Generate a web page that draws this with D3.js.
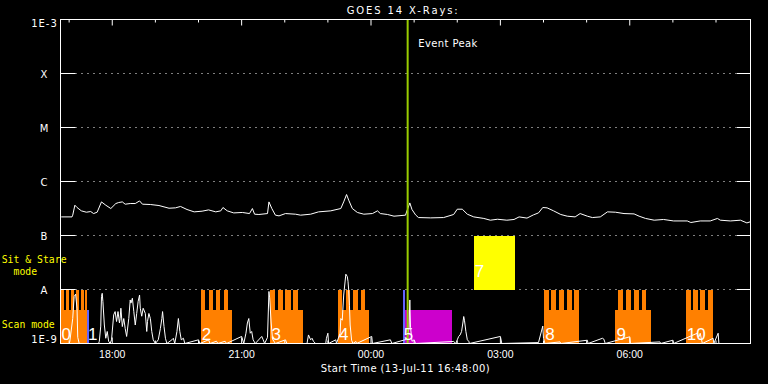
<!DOCTYPE html>
<html><head><meta charset="utf-8">
<script src="https://cdn.jsdelivr.net/npm/d3@7"></script>
<style>
html,body{margin:0;padding:0;background:#000;}
svg{display:block;background:#000;}
</style></head><body>
<svg id="c" width="768" height="384"></svg>
<script>
// ---------------- DATA ----------------
const startTime = "2011-07-13T16:48:00Z";
const endTime   = "2011-07-14T08:48:00Z";
const titleText = "GOES 14 X-Rays:";
const xTitle = "Start Time (13-Jul-11 16:48:00)";
const eventPeakTime = "00:51";
const eventPeakLabel = "Event Peak";

const yTickValues = [1e-9, 1e-8, 1e-7, 1e-6, 1e-5, 1e-4, 1e-3];
const yTickLabels = ["1E-9", "A", "B", "C", "M", "X", "1E-3"];
const gridLevels  = [1e-8, 1e-7, 1e-6, 1e-5, 1e-4];
const xMajorHours = [18, 21, 0, 3, 6];

// GOES long channel (1-8 A)
const longTimes = ["16:49","17:04","17:05","17:08","17:11","17:17","17:24","17:30","17:34","17:39","17:45","17:51","17:58","18:05","18:09","18:14","18:18","18:25","18:32","18:38","18:42","18:53","19:05","19:19","19:28","19:35","19:44","19:54","20:05","20:14","20:24","20:31","20:34","20:40","20:49","21:01","21:11","21:15","21:18","21:24","21:36","21:38","21:42","21:47","21:52","22:01","22:15","22:22","22:36","22:47","23:04","23:18","23:22","23:26","23:29","23:34","23:41","23:50","00:02","00:09","00:13","00:23","00:32","00:48","00:50","00:54","00:57","01:02","01:06","01:23","01:41","01:55","02:00","02:07","02:14","02:23","02:37","02:46","02:56","03:09","03:19","03:26","03:37","03:46","03:53","03:59","04:05","04:14","04:24","04:33","04:44","04:51","05:01","05:08","05:19","05:29","05:40","05:52","06:06","06:13","06:22","06:34","06:47","07:01","07:20","07:25","07:38","07:52","08:02","08:06","08:20","08:34","08:43","08:48"];
const longFlux = [2.21e-7,2.21e-7,2.38e-7,3.64e-7,3.30e-7,2.86e-7,2.70e-7,2.78e-7,2.55e-7,2.70e-7,4.19e-7,3.64e-7,3.16e-7,3.91e-7,4.08e-7,4.19e-7,3.80e-7,3.91e-7,3.91e-7,4.37e-7,3.80e-7,3.75e-7,3.59e-7,3.20e-7,3.25e-7,3.45e-7,3.03e-7,2.74e-7,2.82e-7,2.98e-7,2.74e-7,2.86e-7,3.30e-7,2.86e-7,2.62e-7,2.67e-7,2.55e-7,3.16e-7,2.48e-7,2.45e-7,2.55e-7,4.19e-7,3.16e-7,2.38e-7,2.31e-7,2.55e-7,2.48e-7,2.38e-7,2.48e-7,2.74e-7,2.86e-7,3.16e-7,4.19e-7,5.74e-7,4.50e-7,3.16e-7,2.67e-7,2.48e-7,2.55e-7,2.86e-7,2.55e-7,2.45e-7,2.28e-7,2.38e-7,2.86e-7,4.01e-7,3.03e-7,2.41e-7,2.15e-7,2.12e-7,2.15e-7,2.45e-7,3.07e-7,3.07e-7,2.48e-7,2.21e-7,2.07e-7,1.92e-7,2.00e-7,1.92e-7,1.98e-7,2.21e-7,2.10e-7,2.41e-7,2.62e-7,3.30e-7,3.25e-7,2.86e-7,2.45e-7,2.28e-7,2.21e-7,2.55e-7,2.28e-7,2.15e-7,2.21e-7,2.74e-7,2.70e-7,2.55e-7,2.51e-7,2.28e-7,2.07e-7,1.92e-7,1.98e-7,1.86e-7,1.86e-7,1.74e-7,1.86e-7,1.86e-7,2.07e-7,1.92e-7,1.86e-7,1.92e-7,1.71e-7,1.80e-7];

// GOES short channel (0.5-4 A)
const shortTimes = ["16:48","17:00","17:01","17:05","17:07","17:09","17:11","17:12","17:14","17:41","17:42","17:44","17:45","17:46","17:47","17:49","17:51","17:53","17:55","17:57","17:59","18:02","18:04","18:06","18:08","18:10","18:11","18:12","18:14","18:16","18:18","18:20","18:23","18:25","18:26","18:28","18:30","18:32","18:34","18:36","18:38","18:39","18:41","18:43","18:46","18:48","18:49","18:51","18:53","18:55","18:57","19:00","19:04","19:07","19:09","19:10","19:12","19:14","19:16","19:23","19:25","19:27","19:30","19:32","19:34","19:36","19:39","19:41","20:00","20:02","20:14","20:16","20:25","20:27","20:37","20:39","21:00","21:03","21:06","21:08","21:10","21:12","21:14","21:16","21:19","21:28","21:30","21:32","21:36","21:38","21:39","21:41","21:43","21:47","22:01","22:03","22:31","22:33","22:36","22:38","22:40","22:43","22:57","22:58","23:00","23:01","23:11","23:12","23:17","23:18","23:20","23:22","23:25","23:27","23:28","23:29","23:30","23:31","23:33","23:35","23:39","23:40","00:01","00:02","00:27","00:29","00:50","00:53","00:54","00:55","00:57","01:00","01:02","01:55","01:58","02:00","02:02","02:04","02:06","02:08","02:09","02:10","02:12","02:14","02:16","02:17","03:00","03:02","03:53","03:59","04:00","04:02","04:23","04:24","05:01","05:02","05:22","05:24","05:26","06:00","06:01","06:42","06:43","07:00","07:01","07:34","07:36","07:38","07:41","07:56","07:57","08:03","08:04","08:48"];
const shortFlux = [1e-9,1e-9,1.1e-9,2.9e-9,7.4e-9,8.2e-9,4.5e-9,1.3e-9,1e-9,1e-9,1.1e-9,2.1e-9,7.4e-9,8.5e-9,6e-9,2.2e-9,1.25e-9,1.67e-9,1.1e-9,1e-9,1.17e-9,3.4e-9,3.9e-9,2.55e-9,3.9e-9,2.4e-9,2.9e-9,4.5e-9,2.06e-9,2.9e-9,1.9e-9,1.35e-9,2.9e-9,6.4e-9,5.6e-9,6.9e-9,3.9e-9,2.2e-9,3.6e-9,6e-9,7.9e-9,4.5e-9,3.2e-9,4.5e-9,3.6e-9,1.67e-9,2.55e-9,3.6e-9,2.9e-9,1.67e-9,1.17e-9,1e-9,1.17e-9,1.9e-9,2.9e-9,3.9e-9,2.06e-9,1.25e-9,1e-9,1.17e-9,1.25e-9,1e-9,1.67e-9,2.9e-9,1.67e-9,1.17e-9,1.25e-9,1e-9,1.17e-9,1e-9,1.17e-9,1e-9,1.1e-9,1e-9,1.1e-9,1e-9,1.35e-9,1e-9,1.55e-9,2.4e-9,2.9e-9,1.55e-9,1.67e-9,1.17e-9,1e-9,1.35e-9,1.17e-9,1e-9,1.3e-9,9.2e-9,7e-9,2.5e-9,1.2e-9,1e-9,1.17e-9,1e-9,1e-9,1.44e-9,1.17e-9,1.25e-9,1.09e-9,1e-9,1e-9,1.25e-9,1.55e-9,1e-9,1.17e-9,1e-9,1.55e-9,2.9e-9,2.7e-9,7.9e-9,1.92e-8,1.74e-8,1.42e-8,9.6e-9,5.1e-9,2.2e-9,1.15e-9,1e-9,1.09e-9,1e-9,1.35e-9,1e-9,1.17e-9,1e-9,1.2e-9,2e-9,6.4e-9,2e-9,1.1e-9,1.17e-9,1e-9,1.09e-9,1e-9,1.17e-9,1.35e-9,1.44e-9,1.67e-9,2.5e-9,3.16e-9,2.7e-9,1.67e-9,1.17e-9,1.1e-9,1e-9,1.35e-9,1e-9,1.04e-9,2.1e-9,1.24e-9,1e-9,1.07e-9,1e-9,1.15e-9,1e-9,1.25e-9,1.2e-9,1e-9,1.33e-9,1e-9,1.07e-9,1e-9,1.15e-9,1e-9,1.55e-9,1.3e-9,1.55e-9,1e-9,1.25e-9,1e-9,1.55e-9,1e-9,1e-9];

// Scan-mode observations
const scanLabels = ["0","2","3","4","8","9","10"];
const scanStart  = ["16:48","20:03","21:40","23:14","04:01","05:40","07:18"];
const scanEnd    = ["17:25","20:46","22:25","23:57","04:50","06:29","07:56"];
const scanTeeth  = [
  [["16:48","16:53"],["16:55","17:00"],["17:02","17:07"],["17:09","17:14"],["17:16","17:20"],["17:22","17:25"]],
  [["20:03","20:09"],["20:14","20:20"],["20:25","20:30"],["20:35","20:41"]],
  [["21:40","21:46"],["21:51","21:57"],["22:01","22:08"],["22:12","22:19"]],
  [["23:14","23:20"],["23:25","23:31"],["23:35","23:42"],["23:46","23:52"]],
  [["04:01","04:07"],["04:11","04:18"],["04:22","04:29"],["04:33","04:39"],["04:43","04:50"]],
  [["05:44","05:51"],["05:55","06:02"],["06:06","06:13"],["06:17","06:23"]],
  [["07:18","07:25"],["07:28","07:35"],["07:38","07:45"],["07:49","07:56"]]
];
const scanBaseLevel = 4.14e-9;
const scanTopLevel  = 1e-8;

// Other observations (raster / sit-and-stare)
const otherLabels = ["1","5","","7"];
const otherStart  = ["17:25","00:44","00:47","02:23"];
const otherEnd    = ["17:28","00:47","01:52","03:21"];
const otherLow    = [1e-9, 1e-9, 1e-9, 1e-8];
const otherHigh   = [4.14e-9, 1e-8, 4.14e-9, 1e-7];
const otherKind   = ["raster","raster","stareLow","stare"];

// ---------------- STYLE ----------------
const kindColor = {scan:"#ff8000", raster:"#6464ff", stareLow:"#cc00cc", stare:"#ffff00"};

// ---------------- DRAW ----------------
function t(s){
  const [h,m] = s.split(":").map(Number);
  return new Date(Date.UTC(2011, 6, h >= 16 ? 13 : 14, h, m));
}
const L = 60.5, R = 750.5, T = 19.5, B = 343.5;
const x = d3.scaleUtc().domain([new Date(startTime), new Date(endTime)]).range([L, R]);
const y = d3.scaleLog().domain([1e-9, 1e-3]).range([B, T]);

const svg = d3.select("#c");
svg.append("defs").append("clipPath").attr("id","clip")
  .append("rect").attr("x",L).attr("y",T).attr("width",R-L).attr("height",B-T);

// dotted grid
svg.append("g").selectAll("line").data(gridLevels).join("line")
  .attr("x1", 75.5).attr("x2", 736)
  .attr("y1", d => y(d)).attr("y2", d => y(d))
  .attr("stroke","#fff").attr("stroke-width",1).attr("stroke-dasharray","1,5");

const plot = svg.append("g").attr("clip-path","url(#clip)");

// scan blocks
const scan = scanLabels.map((lab,i)=>({lab, s:scanStart[i], e:scanEnd[i], teeth:scanTeeth[i]}));
const gScan = plot.append("g").attr("fill", kindColor.scan).attr("shape-rendering","crispEdges");
scan.forEach(b=>{
  gScan.append("rect")
    .attr("x", x(t(b.s))).attr("width", x(t(b.e)) - x(t(b.s)))
    .attr("y", y(scanBaseLevel)).attr("height", y(1e-9) - y(scanBaseLevel));
  b.teeth.forEach(tt=>{
    gScan.append("rect")
      .attr("x", x(t(tt[0]))).attr("width", x(t(tt[1])) - x(t(tt[0])))
      .attr("y", y(scanTopLevel)).attr("height", y(scanBaseLevel) - y(scanTopLevel) + 0.5);
  });
});

// other observations
const others = otherLabels.map((lab,i)=>({lab, s:otherStart[i], e:otherEnd[i], lo:otherLow[i], hi:otherHigh[i], k:otherKind[i]}));
plot.append("g").attr("shape-rendering","crispEdges").selectAll("rect").data(others).join("rect")
  .attr("x", d => x(t(d.s))).attr("width", d => x(t(d.e)) - x(t(d.s)))
  .attr("y", d => y(d.hi)).attr("height", d => y(d.lo) - y(d.hi))
  .attr("fill", d => kindColor[d.k]);

// flux lines
const line = d3.line().x(d => x(t(d[0]))).y(d => y(d[1]));
plot.append("path").datum(shortTimes.map((s,i)=>[s, shortFlux[i]]))
  .attr("d", line).attr("fill","none").attr("stroke","#fff").attr("stroke-width",1);
plot.append("path").datum(longTimes.map((s,i)=>[s, longFlux[i]]))
  .attr("d", line).attr("fill","none").attr("stroke","#fff").attr("stroke-width",1);

// event peak
const xp = x(t(eventPeakTime));
svg.append("line").attr("x1",xp).attr("x2",xp).attr("y1",T).attr("y2",B)
  .attr("stroke","#99cc00").attr("stroke-width",2);
svg.append("text").attr("x", 418.3).attr("y", 46.5).text(eventPeakLabel)
  .attr("fill","#fff").attr("font-family","DejaVu Sans").attr("font-size",10)
  .attr("textLength",59).attr("lengthAdjust","spacing");

// block labels
const labelFont = {"font-family":"Liberation Sans","font-size":17};
const labs = scan.map(b=>({lab:b.lab, s:b.s, lo:1e-9, off:4}))
  .concat(others.filter(d=>d.lab).map(d=>({lab:d.lab, s:d.s, lo:d.lo, off: d.lo > 1e-9 ? 12.5 : 4})));
svg.append("g").selectAll("text").data(labs).join("text")
  .attr("x", d => x(t(d.s)) + 1).attr("y", d => y(d.lo) - d.off)
  .attr("fill","#fff").attr("font-family",labelFont["font-family"]).attr("font-size",labelFont["font-size"])
  .text(d => d.lab);

// frame
svg.append("rect").attr("x",L).attr("y",T).attr("width",R-L).attr("height",B-T)
  .attr("fill","none").attr("stroke","#fff").attr("stroke-width",1);

// x ticks
const hours = d3.utcHour.range(new Date(startTime), new Date(endTime));
const minor = hours.filter(d => !xMajorHours.includes(d.getUTCHours()));
const major = hours.filter(d => xMajorHours.includes(d.getUTCHours()));
function clean(g){ g.select(".domain").remove(); g.attr("color","#fff"); }
svg.append("g").attr("transform",`translate(0,${T})`)
  .call(d3.axisBottom(x).tickValues(minor).tickSize(3).tickFormat("").offset(0)).call(clean);
svg.append("g").attr("transform",`translate(0,${T})`)
  .call(d3.axisBottom(x).tickValues(major).tickSize(6).tickFormat("").offset(0)).call(clean);
svg.append("g").attr("transform",`translate(0,${B})`)
  .call(d3.axisTop(x).tickValues(minor).tickSize(3).tickFormat("").offset(0)).call(clean);
const xb = svg.append("g").attr("transform",`translate(0,${B})`)
  .call(d3.axisBottom(x).tickValues(major).tickSize(-6).tickPadding(7.5).tickFormat(d3.utcFormat("%H:%M")).offset(0)).call(clean);
xb.selectAll("text").attr("font-family","Liberation Sans").attr("font-size",10.5).attr("fill","#fff");

// y ticks
svg.append("g").attr("transform",`translate(${L},0)`)
  .call(d3.axisRight(y).tickValues(yTickValues).tickSize(15).tickFormat("").offset(0)).call(clean);
svg.append("g").attr("transform",`translate(${R},0)`)
  .call(d3.axisLeft(y).tickValues(yTickValues).tickSize(14).tickFormat("").offset(0)).call(clean);

// y labels
svg.append("g").selectAll("text").data(yTickValues).join("text")
  .attr("x", 44.5)
  .attr("y", (d,i) => i === 0 ? y(d) - 0.2 : (i === yTickValues.length-1 ? y(d) + 7.3 : y(d) + 4))
  .attr("text-anchor","middle").attr("fill","#fff")
  .attr("font-family","DejaVu Sans").attr("font-size",10).attr("letter-spacing",1)
  .text((d,i) => yTickLabels[i]);

// title & axis title
svg.append("text").attr("x", 346.7).attr("y", 14).text(titleText)
  .attr("fill","#fff").attr("font-family","DejaVu Sans").attr("font-size",10)
  .attr("textLength",111).attr("lengthAdjust","spacing");
svg.append("text").attr("x", 320.7).attr("y", 371.5).text(xTitle)
  .attr("fill","#fff").attr("font-family","DejaVu Sans").attr("font-size",10)
  .attr("textLength",169).attr("lengthAdjust","spacing");

// mode labels
const modeFont = {"font-family":"DejaVu Sans Mono","font-size":9.8};
[["Sit & Stare", 1.7, 262.5], ["mode", 13.5, 275], ["Scan mode", 1.7, 328]].forEach(([s,xx,yy])=>{
  svg.append("text").attr("x",xx).attr("y",yy).text(s)
    .attr("fill","#ffff00").attr("font-family",modeFont["font-family"]).attr("font-size",modeFont["font-size"]);
});
</script>
</body></html>
